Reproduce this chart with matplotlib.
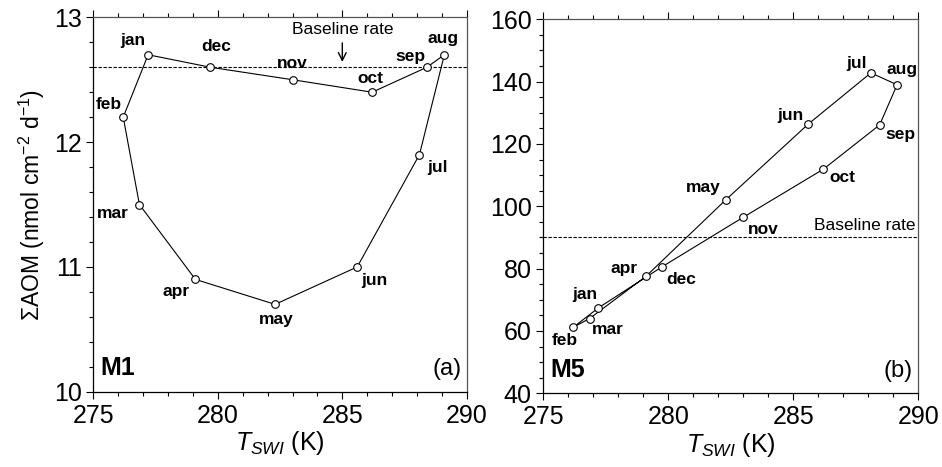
import matplotlib
matplotlib.use("Agg")
import matplotlib.pyplot as plt
from matplotlib.ticker import MultipleLocator

plt.rcParams['font.family'] = ['Liberation Sans', 'DejaVu Sans']
plt.rcParams['mathtext.fontset'] = 'custom'
plt.rcParams['mathtext.rm'] = 'Liberation Sans'
plt.rcParams['mathtext.it'] = 'Liberation Sans:italic'
plt.rcParams['mathtext.bf'] = 'Liberation Sans:bold'

# monthly loop, closed back to jan
months = ['jan', 'feb', 'mar', 'apr', 'may', 'jun', 'jul', 'aug', 'sep', 'oct', 'nov', 'dec']
t_swi = [277.2, 276.2, 276.85, 279.1, 282.3, 285.6, 288.1, 289.1, 288.4, 286.2, 283.0, 279.7]
aom_m1 = [12.70, 12.20, 11.50, 10.90, 10.70, 11.00, 11.90, 12.70, 12.60, 12.40, 12.50, 12.60]

t_swi_m5 = [277.2, 276.2, 276.85, 279.1, 282.3, 285.6, 288.1, 289.15, 288.45, 286.2, 283.0, 279.75]
aom_m5 = [67.4, 61.2, 64.0, 77.5, 102.1, 126.4, 142.8, 139.0, 126.1, 111.9, 96.5, 80.6]

baseline_m1 = 12.6
baseline_m5 = 90

# label offsets (points) for each month
offs_m1 = [(-11, 10), (-10.5, 9), (-19, -6.5), (-14, -8.5), (1, -11), (12, -9.5),
           (13, -9.5), (-1, 12), (-12, 8), (-1, 10), (0, 11.5), (4, 15)]
offs_m5 = [(-10, 10), (-6.3, -9.6), (13.4, -8), (-15.5, 6), (-16.5, 8.5), (-13, 6),
           (-10, 6.5), (3.4, 11.3), (15, -7), (13.5, -6), (14.5, -8.5), (14, -9)]

fig = plt.figure(figsize=(9.42, 4.67), dpi=100)
ax1 = fig.add_axes([0.0991, 0.1612, 0.3964, 0.8017])
ax2 = fig.add_axes([0.5768, 0.1578, 0.3981, 0.8009])


def draw(ax, x, y, offs, base):
    xs = x + x[:1]
    ys = y + y[:1]
    ax.plot(xs, ys, color='black', lw=0.8, zorder=3)
    ax.plot(x, y, 'o', ms=5.5, mfc='white', mec='black', mew=0.8, zorder=4)
    ax.axhline(base, color='black', lw=0.8, ls=(0, (3, 1.5)), zorder=2)
    for m, xi, yi, o in zip(months, x, y, offs):
        ax.annotate(m, (xi, yi), xytext=o, textcoords='offset points',
                    ha='center', va='center', fontsize=12.5, fontweight='bold')
    ax.set_xlim(275, 290)
    ax.xaxis.set_major_locator(MultipleLocator(5))
    ax.xaxis.set_minor_locator(MultipleLocator(1))
    ax.tick_params(which='both', direction='out', top=True, right=False, labelsize=18, width=0.8)
    ax.tick_params(which='major', length=5)
    ax.tick_params(which='minor', length=3)
    ax.set_xlabel(r'$T_{SWI}$ (K)', fontsize=18, labelpad=1)
    for s in ['top', 'right']:
        ax.spines[s].set_color('#555555')
    for s in ['left', 'bottom']:
        ax.spines[s].set_color('black')
    for s in ax.spines.values():
        s.set_linewidth(0.9)


draw(ax1, t_swi, aom_m1, offs_m1, baseline_m1)
ax1.set_ylim(10, 13)
ax1.yaxis.set_major_locator(MultipleLocator(1))
ax1.yaxis.set_minor_locator(MultipleLocator(0.2))
ax1.set_ylabel(r'ΣAOM (nmol cm$^{-2}$ d$^{-1}$)', fontsize=16.5, labelpad=5)
ax1.annotate('Baseline rate', xy=(285, baseline_m1 + 0.02), xytext=(285, 12.9),
             ha='center', va='center', fontsize=12.5,
             arrowprops=dict(arrowstyle='->', color='black', lw=1.0, mutation_scale=14))
ax1.text(0.02, 0.03, 'M1', transform=ax1.transAxes, fontsize=18, fontweight='bold',
         ha='left', va='bottom')
ax1.text(0.985, 0.03, '(a)', transform=ax1.transAxes, fontsize=17, ha='right', va='bottom')

draw(ax2, t_swi_m5, aom_m5, offs_m5, baseline_m5)
ax2.set_ylim(40, 160)
ax2.yaxis.set_major_locator(MultipleLocator(20))
ax2.yaxis.set_minor_locator(MultipleLocator(5))
ax2.text(289.9, baseline_m5 + 1.5, 'Baseline rate', ha='right', va='bottom', fontsize=12.5)
ax2.text(0.02, 0.03, 'M5', transform=ax2.transAxes, fontsize=18, fontweight='bold',
         ha='left', va='bottom')
ax2.text(0.985, 0.03, '(b)', transform=ax2.transAxes, fontsize=17, ha='right', va='bottom')

fig.savefig('out.png', dpi=100)
